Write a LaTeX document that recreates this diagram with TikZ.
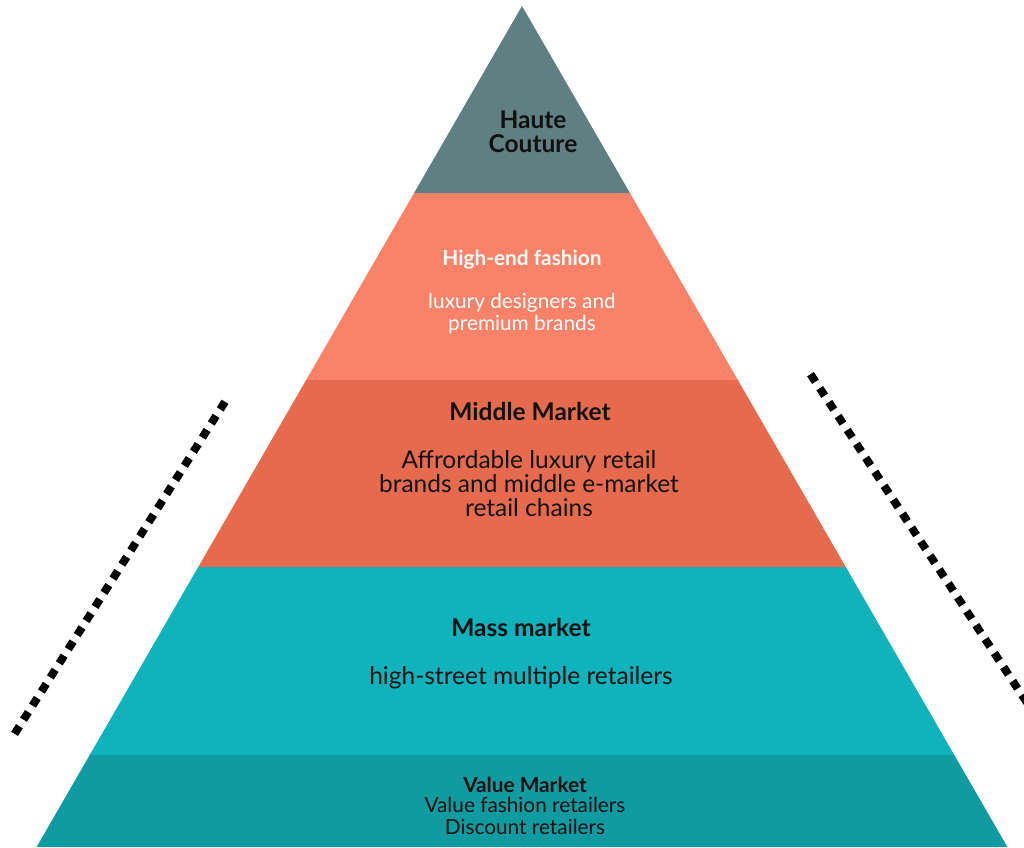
\documentclass[tikz,border=0pt]{standalone}
\usepackage{fontspec}
\setmainfont{Lato}
\definecolor{hcgray}{HTML}{5F7F83}
\definecolor{hesalmon}{HTML}{F98268}
\definecolor{mmorange}{HTML}{E66B4E}
\definecolor{massteal}{HTML}{10B3BB}
\definecolor{valteal}{HTML}{0F9BA0}
\definecolor{txtdark}{HTML}{111111}
\begin{document}
\begin{tikzpicture}[x=1pt,y=-1pt,
  title/.style={font=\fontsize{24.5}{24}\selectfont\bfseries, text=txtdark, align=center, inner sep=0pt},
  body/.style={font=\fontsize{24.5}{24}\selectfont, text=txtdark, align=center, inner sep=0pt},
  smalltitle/.style={font=\fontsize{20.8}{22}\selectfont\bfseries, align=center, inner sep=0pt},
  smallbody/.style={font=\fontsize{20.8}{22}\selectfont, align=center, inner sep=0pt},
  dotline/.style={line width=8pt, dash pattern=on 9pt off 7.7pt, black}]
\useasboundingbox (0,0) rectangle (1024,847);
% pyramid
\coordinate (apex) at (522,6);
\coordinate (bl) at (36.6,847);
\coordinate (br) at (1007.4,847);
\begin{scope}
  \clip (apex) -- (br) -- (bl) -- cycle;
  \fill[hcgray]    (0,0)   rectangle (1024,193.5);
  \fill[hesalmon]  (0,193) rectangle (1024,380.5);
  \fill[mmorange]  (0,380) rectangle (1024,567.5);
  \fill[massteal]  (0,567) rectangle (1024,755.5);
  \fill[valteal]   (0,755) rectangle (1024,847);
\end{scope}
% dotted side lines
\coordinate (la) at (14.6,733.8);
\coordinate (lb) at (225.4,401.2);
\coordinate (ra) at (810.5,374.2);
\coordinate (rb) at (1045,730);
\begin{scope}
  \clip (0,0) rectangle (1024,847);
  \draw[dotline] (la) -- (lb);
  \draw[dotline] (ra) -- (rb);
\end{scope}
% texts
\node[title] (hc) at (533,132) {Haute\\Couture};
\node[smalltitle, text=white] (het) at (522,260) {High-end fashion};
\node[smallbody, text=white] (heb) at (522,313.5) {luxury designers and\\premium brands};
\node[title] (mmt) at (530,411) {Middle Market};
\node[body] (mmb) at (529,484) {Affrordable luxury retail\\brands and middle e-market\\retail chains};
\node[title] (mst) at (521,627) {Mass market};
\node[body] (msb) at (521,678) {high-street multiple retailers};
\node[smalltitle, text=txtdark] (vmt) at (525,785) {Value Market};
\node[smallbody, text=txtdark, font=\fontsize{20.8}{21.5}\selectfont] (vmb) at (525,816) {Value fashion retailers\\Discount retailers};
\end{tikzpicture}
\end{document}
